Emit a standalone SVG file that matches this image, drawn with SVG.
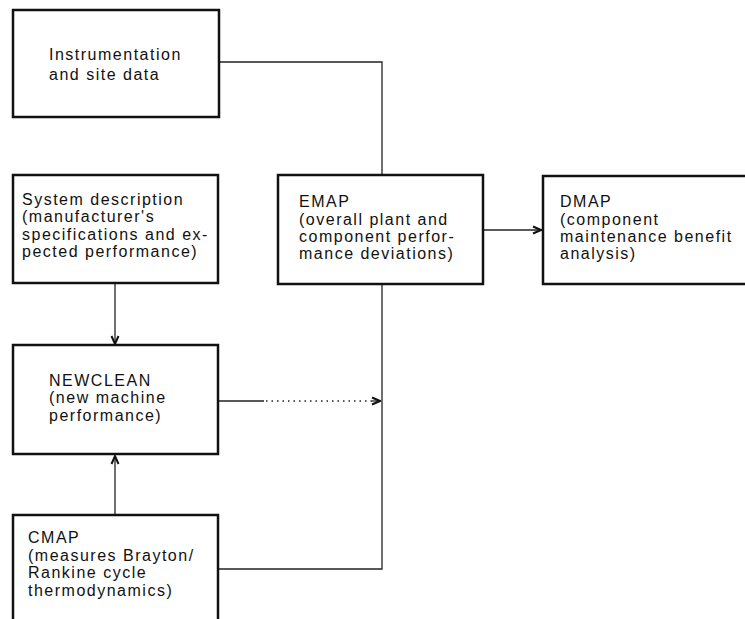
<svg xmlns="http://www.w3.org/2000/svg" width="745" height="619" viewBox="0 0 745 619">
<defs>
<style>
.box{fill:#fff;stroke:#111;stroke-width:2.5}
.t{font-family:"Liberation Sans",Arial,sans-serif;font-size:16px;letter-spacing:1.5px;fill:#111}
.c{fill:none;stroke:#222;stroke-width:1.3}
.d{fill:none;stroke:#222;stroke-width:1.3;stroke-dasharray:1.5 4}
</style>
<marker id="ah" viewBox="0 0 10 10" refX="9" refY="5" markerWidth="10" markerHeight="10" markerUnits="userSpaceOnUse" orient="auto">
<path d="M1,1.5 L9,5 L1,8.5" fill="none" stroke="#111" stroke-width="2"/>
</marker>
</defs>
<rect width="745" height="619" fill="#fff"/>
<g id="connectors">
<polyline class="c" points="219,62 382,62 382,175"/>
<line class="c" x1="115" y1="283" x2="115" y2="344" marker-end="url(#ah)"/>
<line class="c" x1="115" y1="515" x2="115" y2="456" marker-end="url(#ah)"/>
<polyline class="c" points="218,569 382,569 382,284"/>
<line class="c" x1="218" y1="401" x2="264" y2="401"/>
<line class="d" x1="266" y1="401" x2="376" y2="401"/>
<line class="c" x1="372" y1="401" x2="380" y2="401" marker-end="url(#ah)"/>
<line class="c" x1="483" y1="230" x2="541" y2="230" marker-end="url(#ah)"/>
</g>
<g id="instrumentation">
<rect class="box" x="13" y="10" width="206" height="107"/>
<text class="t" x="49" y="60">Instrumentation</text>
<text class="t" x="49" y="80">and site data</text>
</g>
<g id="system">
<rect class="box" x="13" y="175" width="205" height="108"/>
<text class="t" x="22" y="205">System description</text>
<text class="t" x="22" y="222">(manufacturer's</text>
<text class="t" x="22" y="239.5">specifications and ex-</text>
<text class="t" x="22" y="257">pected performance)</text>
</g>
<g id="emap">
<rect class="box" x="278" y="175" width="205" height="109"/>
<text class="t" x="299" y="207">EMAP</text>
<text class="t" x="299" y="224.5">(overall plant and</text>
<text class="t" x="299" y="241.5">component perfor-</text>
<text class="t" x="299" y="259">mance deviations)</text>
</g>
<g id="dmap">
<rect class="box" x="543" y="176" width="220" height="108"/>
<text class="t" x="560" y="207">DMAP</text>
<text class="t" x="560" y="224.5">(component</text>
<text class="t" x="560" y="241.5">maintenance benefit</text>
<text class="t" x="560" y="259">analysis)</text>
</g>
<g id="newclean">
<rect class="box" x="13" y="345" width="205" height="109"/>
<text class="t" x="49" y="386">NEWCLEAN</text>
<text class="t" x="49" y="403">(new machine</text>
<text class="t" x="49" y="420.5">performance)</text>
</g>
<g id="cmap">
<rect class="box" x="13" y="515" width="205" height="130"/>
<text class="t" x="28" y="543">CMAP</text>
<text class="t" x="28" y="560.5">(measures Brayton/</text>
<text class="t" x="28" y="578">Rankine cycle</text>
<text class="t" x="28" y="595.5">thermodynamics)</text>
</g>
</svg>
